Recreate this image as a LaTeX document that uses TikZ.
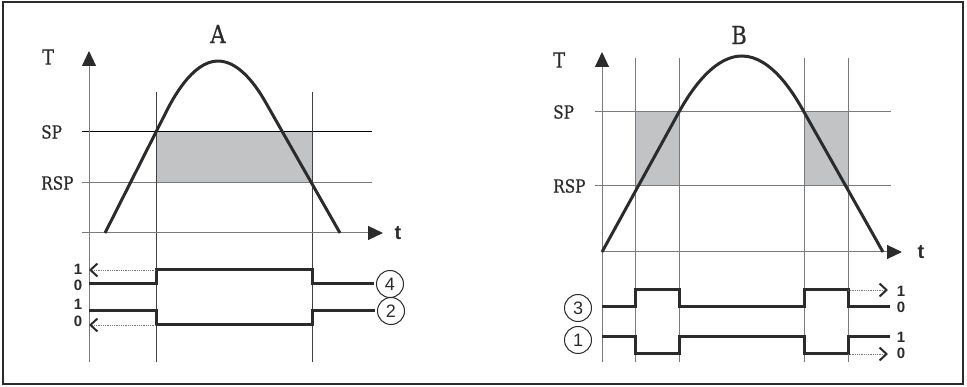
\documentclass[tikz,border=0pt]{standalone}
\usepackage{fontspec}
\setmainfont{DejaVu Serif}
\newfontfamily\slabfont{DejaVu Serif}[FakeStretch=0.85,FakeBold=0.6]
\newfontfamily\sigfont{Liberation Sans}
\usetikzlibrary{arrows.meta}
\definecolor{axisgray}{HTML}{7A7A7A}
\definecolor{inkgray}{HTML}{2B2B2B}
\definecolor{bandgray}{HTML}{C2C3C5}

\begin{document}
\begin{tikzpicture}[x=1pt,y=-1pt,
  axis/.style={axisgray,line width=1pt,-{Triangle[length=15pt,width=14pt,color=inkgray]}},
  gridline/.style={axisgray,line width=1pt},
  curve/.style={inkgray,line width=3pt,line join=round},
  signal/.style={inkgray,line width=3pt},
  latch/.style={axisgray,densely dotted,line width=0.8pt,
    -{Straight Barb[length=7pt,width=13pt,line width=2pt,color=inkgray]}},
  num/.style={circle,draw=inkgray,text=inkgray,line width=1pt,minimum size=27pt,
    inner sep=0pt,outer sep=3pt,font=\sigfont\fontsize{18}{18}\selectfont},
  lvl/.style={inner sep=0pt,text=inkgray,font=\sigfont\bfseries\fontsize{15}{15}\selectfont},
  tvar/.style={inner sep=0pt,text=inkgray,font=\sigfont\bfseries\fontsize{20}{20}\selectfont},
  title/.style={inner sep=0pt,text=inkgray,font=\slabfont\fontsize{25}{25}\selectfont},
  lab/.style={inner sep=0pt,anchor=west,text=inkgray,font=\slabfont\fontsize{18}{18}\selectfont}]
%\draw[help lines,step=50] (0,0) grid (967,387);
\useasboundingbox (0,0) rectangle (967,387);
\draw[inkgray,line width=1.5pt] (3,2) rectangle (963,384);

% left: A
\fill[bandgray] (156,132) rectangle (312,183);
\draw[black,line width=1pt] (82,132) -- (372,132);
\draw[gridline] (82,183) -- (372,183);
\draw[gridline,darkgray] (156,92) -- (156,362) (312,92) -- (312,362);
\draw[axis] (89,362) -- (89,51);
\draw[axis] (82,233) -- (383,233);
\draw[curve] (105,233) -- (165.7,112.8) parabola bend (218,61) (266,103) -- (340,233);

\node[title] (tA) at (218,34) {A};
\node[lab,font=\slabfont\fontsize{21}{21}\selectfont] (TA) at (42,57) {T};
\node[lab] (spA) at (41,132) {SP};
\node[lab] (rspA) at (41,183) {RSP};
\node[tvar] (tvA) at (398,233) {t};

\node[num] (c4) at (390,284) {4};
\node[num] (c2) at (391,311) {2};
\draw[signal] (89,284) -| (156,270) -| (312,284) -- (c4.west);
\draw[signal] (89,311) -| (156,325) -| (312,311) -- (c2.west);
\draw[latch] (156,270) -- (89,270);
\draw[latch] (156,325) -- (89,325);
\node[lvl] (h4) at (78,269) {1};
\node[lvl] (l4) at (78,285) {0};
\node[lvl] (h2) at (78,304) {1};
\node[lvl] (l2) at (78,321) {0};

% right: B
\fill[bandgray] (635,112) rectangle (679,186) (804,112) rectangle (848,186);
\draw[gridline] (595,112) -- (891,112) (595,186) -- (891,186);
\foreach \x in {635,679,804,848}
  \draw[gridline] (\x,58) -- (\x,362);
\draw[axis] (602,362) -- (602,52);
\draw[axis] (602,252) -- (902,252);
\draw[curve] (602,252) -- (677.5,114.7) parabola bend (742,56) (802.7,109.7) -- (883,252);

\node[title] (tB) at (739,35) {B};
\node[lab,font=\slabfont\fontsize{21}{21}\selectfont] (TB) at (553,60) {T};
\node[lab] (spB) at (553,112) {SP};
\node[lab] (rspB) at (553,186) {RSP};
\node[tvar] (tvB) at (921,252) {t};

\node[num] (c3) at (578,308) {3};
\node[num] (c1) at (578,340) {1};
\draw[signal] (602,307) -| (635,290) -| (679,307) -| (804,290) -| (848,307) -- (890,307);
\draw[signal] (602,337) -| (635,354) -| (679,337) -| (804,354) -| (848,337) -- (890,337);
\draw[latch] (848,290) -- (888,290);
\draw[latch] (848,354) -- (888,354);
\node[lvl] (h3) at (901,291) {1};
\node[lvl] (l3) at (901,307) {0};
\node[lvl] (h1) at (901,337) {1};
\node[lvl] (l1) at (901,353) {0};

\end{tikzpicture}
\end{document}
